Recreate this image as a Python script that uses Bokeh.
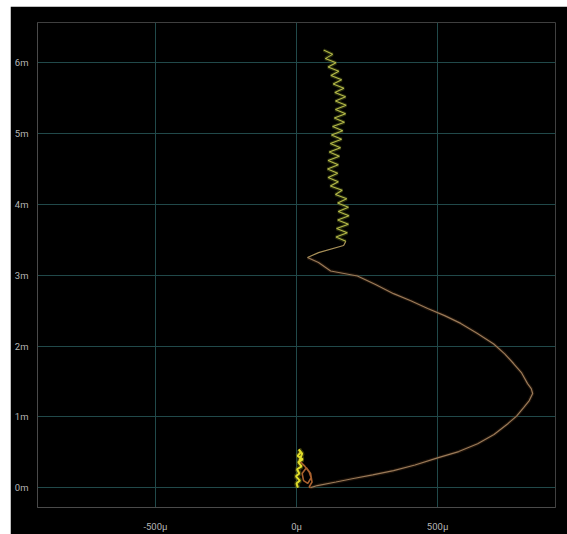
from bokeh.plotting import figure
from bokeh.layouts import column, row
from bokeh.models import FixedTicker, PrintfTickFormatter, Spacer
from bokeh.embed import file_html
from bokeh.resources import INLINE

# x in micro-units, y in milli-units
x_ticks = [-500, 0, 500]
y_ticks = [0, 1, 2, 3, 4, 5, 6]

start_x = [5, 0, 12, -2, 10, 2, 18, 6, 22, 4, 15, 8, 20, 10]
start_y = [0.0, 0.06, 0.10, 0.16, 0.20, 0.26, 0.30, 0.36, 0.40, 0.45, 0.50, 0.54, 0.48, 0.38]

loop_x = [10, 30, 45, 52, 40, 25, 20, 35, 50, 55, 45, 50]
loop_y = [0.38, 0.30, 0.22, 0.14, 0.06, 0.10, 0.20, 0.28, 0.20, 0.08, 0.01, 0.0]

curve_x = [50, 74, 140, 202, 270, 344, 420, 500, 575, 642, 700, 748, 780, 805, 825, 837,
           832, 819, 798, 770, 738, 699, 640, 582, 525, 465, 405, 344, 280, 216, 121, 78, 39]
curve_y = [0.0, 0.03, 0.08, 0.13, 0.18, 0.24, 0.32, 0.42, 0.51, 0.62, 0.75, 0.90, 1.01, 1.13,
           1.23, 1.33, 1.40, 1.47, 1.62, 1.75, 1.89, 2.03, 2.18, 2.32, 2.43, 2.53, 2.64, 2.74,
           2.87, 2.99, 3.06, 3.18, 3.25]

lead_x = [39, 78, 167, 175]
lead_y = [3.25, 3.32, 3.42, 3.48]

zig_x = [175, 140, 180, 142, 184, 146, 186, 148, 184, 146, 178, 138, 162, 120, 148, 112,
         146, 110, 148, 112, 152, 116, 156, 120, 160, 124, 164, 128, 170, 134, 174, 138,
         176, 138, 174, 136, 168, 130, 160, 122, 150, 112, 140, 102, 128, 96]
zig_y = [3.48, 3.54, 3.60, 3.66, 3.72, 3.78, 3.84, 3.90, 3.96, 4.02, 4.08, 4.14, 4.20, 4.26,
         4.32, 4.38, 4.44, 4.50, 4.56, 4.62, 4.68, 4.74, 4.80, 4.86, 4.92, 4.98, 5.04, 5.10,
         5.16, 5.22, 5.28, 5.34, 5.40, 5.46, 5.52, 5.58, 5.64, 5.70, 5.76, 5.82, 5.88, 5.94,
         6.00, 6.06, 6.12, 6.18]

p = figure(width=557, height=528, output_backend="svg", toolbar_location=None,
           x_range=(-918, 918), y_range=(-0.28, 6.57),
           background_fill_color="black", border_fill_color="black",
           min_border_left=27, min_border_right=12, min_border_top=16, min_border_bottom=27)
p.outline_line_color = None

p.xaxis.ticker = FixedTicker(ticks=x_ticks)
p.yaxis.ticker = FixedTicker(ticks=y_ticks)
p.xaxis.formatter = PrintfTickFormatter(format="%dµ")
p.yaxis.formatter = PrintfTickFormatter(format="%dm")
for ax in (p.xaxis, p.yaxis):
    ax.axis_line_color = "#4a4a4a"
    ax.major_tick_line_color = None
    ax.minor_tick_line_color = None
    ax.major_label_text_color = "#b4b4b4"
    ax.major_label_text_font = "Roboto"
    ax.major_label_text_font_size = "9.5px"
p.xaxis.major_label_standoff = 7
p.yaxis.major_label_standoff = 3

p.grid.grid_line_color = "#21494a"
p.grid.grid_line_alpha = 1.0

# glow
p.line(curve_x, curve_y, line_color="#4a3018", line_width=3.5, line_alpha=0.4)
p.line(zig_x, zig_y, line_color="#4a5418", line_width=3.5, line_alpha=0.5)
p.line(start_x, start_y, line_color="#707010", line_width=5, line_alpha=0.5)

p.line(curve_x, curve_y, line_color="#9a7a58", line_width=1.2)
p.line(lead_x, lead_y, line_color="#a89058", line_width=1.2)
p.line(zig_x, zig_y, line_color="#b4b848", line_width=1.1)
p.line(loop_x, loop_y, line_color="#a8602e", line_width=1.6)
p.line(start_x, start_y, line_color="#e0dc2a", line_width=2)

layout = column(Spacer(height=6), row(Spacer(width=10), p))
open("out.html", "w").write(file_html(layout, INLINE))
